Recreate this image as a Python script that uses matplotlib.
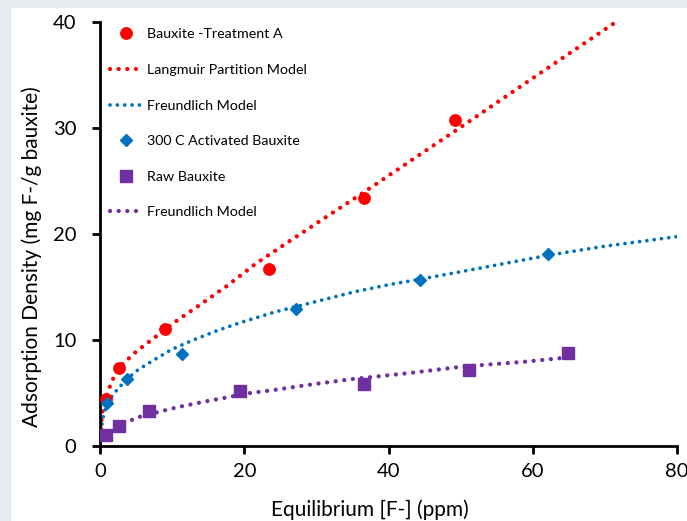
import matplotlib
matplotlib.use("Agg")
import matplotlib.pyplot as plt
from matplotlib.patches import Rectangle

plt.rcParams['font.family'] = ['Lato', 'DejaVu Sans']

# measured points
treat_a_x = [0.8, 2.6, 9.0, 23.4, 36.6, 49.2]
treat_a_y = [4.4, 7.4, 11.0, 16.7, 23.4, 30.8]

act_x = [1.0, 3.7, 11.4, 27.2, 44.4, 62.1]
act_y = [4.1, 6.3, 8.7, 12.9, 15.7, 18.1]

raw_x = [0.8, 2.6, 6.8, 19.4, 36.6, 51.2, 64.9]
raw_y = [1.0, 1.9, 3.3, 5.2, 5.85, 7.2, 8.8]

# model curves
lang_x = [0, 0.15, 0.4, 1.0, 1.85, 3.1, 5.0, 7.9, 10.6, 13.6, 17.6, 21.6, 26, 30, 36.5, 49.4, 60, 71.3]
lang_y = [0, 2.0, 3.8, 5.0, 6.4, 7.7, 8.9, 10.4, 11.8, 13.2, 15.1, 17.2, 19.2, 21.0, 23.9, 29.8, 34.7, 39.9]

freu_a_x = [0, 0.3, 0.6, 1.07, 1.85, 3.7, 5.3, 7.2, 9.9, 12.75, 16.5, 19.5, 24.3, 30.4, 35.3, 40.3, 44.5, 50.5, 62.2, 70, 80]
freu_a_y = [0, 2.3, 3.2, 4.0, 4.9, 6.3, 7.2, 8.0, 9.1, 9.95, 10.95, 11.65, 12.65, 13.7, 14.55, 15.25, 15.75, 16.5, 18.0, 18.85, 19.75]

freu_r_x = [0, 0.2, 0.8, 2.0, 3.9, 5.2, 8.6, 11, 14.6, 18.1, 20.5, 24.1, 28.7, 34.8, 43.1, 50.4, 58.9, 64.8]
freu_r_y = [0, 0.57, 1.1, 1.65, 2.3, 2.7, 3.3, 3.7, 4.2, 4.65, 4.97, 5.28, 5.75, 6.3, 6.9, 7.5, 7.95, 8.35]

red = '#FF0000'
blue = '#0070C0'
purple = '#7030A0'

fig = plt.figure(figsize=(6.87, 5.21), dpi=100, facecolor='#e6ebef')
fig.patches.append(Rectangle((11 / 687, 0), 1, 1 - 8 / 521, transform=fig.transFigure,
                             facecolor='white', edgecolor='none', zorder=-1))
ax = fig.add_axes([100 / 687, 75 / 521, 577 / 687, 424 / 521])
ax.set_facecolor('none')

h1, = ax.plot(treat_a_x, treat_a_y, 'o', color=red, ms=8.2, zorder=3)
h2, = ax.plot(lang_x, lang_y, color=red, lw=3.1, ls=(0, (0.01, 2.0)), dash_capstyle='round')
h3, = ax.plot(freu_a_x, freu_a_y, color=blue, lw=2.7, ls=(0, (0.01, 1.95)), dash_capstyle='round')
h4, = ax.plot(act_x, act_y, 'D', color=blue, ms=6.3, zorder=3)
h5, = ax.plot(raw_x, raw_y, 's', color=purple, ms=8.3, zorder=3)
h6, = ax.plot(freu_r_x, freu_r_y, color=purple, lw=3.1, ls=(0, (0.01, 2.0)), dash_capstyle='round')

ax.set_xlim(0, 80)
ax.set_ylim(0, 40)
ax.set_xticks([0, 20, 40, 60, 80])
ax.set_yticks([0, 10, 20, 30, 40])
for s in ['top', 'right']:
    ax.spines[s].set_visible(False)
for s in ['left', 'bottom']:
    ax.spines[s].set_linewidth(2.0)
ax.tick_params(direction='out', length=6, width=2.0, labelsize=14.5, pad=6)
ax.tick_params(axis='y', pad=11)

ax.set_xlabel('Equilibrium [F-] (ppm)', fontsize=15)
ax.set_ylabel('Adsorption Density (mg F-/g bauxite)', fontsize=15)
ax.xaxis.set_label_coords(0.468, -0.125)
ax.yaxis.set_label_coords(-0.1, 0.446)

ax.legend([h1, h2, h3, h4, h5, h6],
          ['Bauxite -Treatment A', 'Langmuir Partition Model', 'Freundlich Model',
           '300 C Activated Bauxite', 'Raw Bauxite', 'Freundlich Model'],
          loc='upper left', bbox_to_anchor=(0.018, 0.985), frameon=False,
          fontsize=10.3, handlelength=2.2, handletextpad=0.35, labelspacing=1.65,
          borderpad=0, borderaxespad=0)

fig.savefig('out.png', dpi=100, facecolor=fig.get_facecolor())
